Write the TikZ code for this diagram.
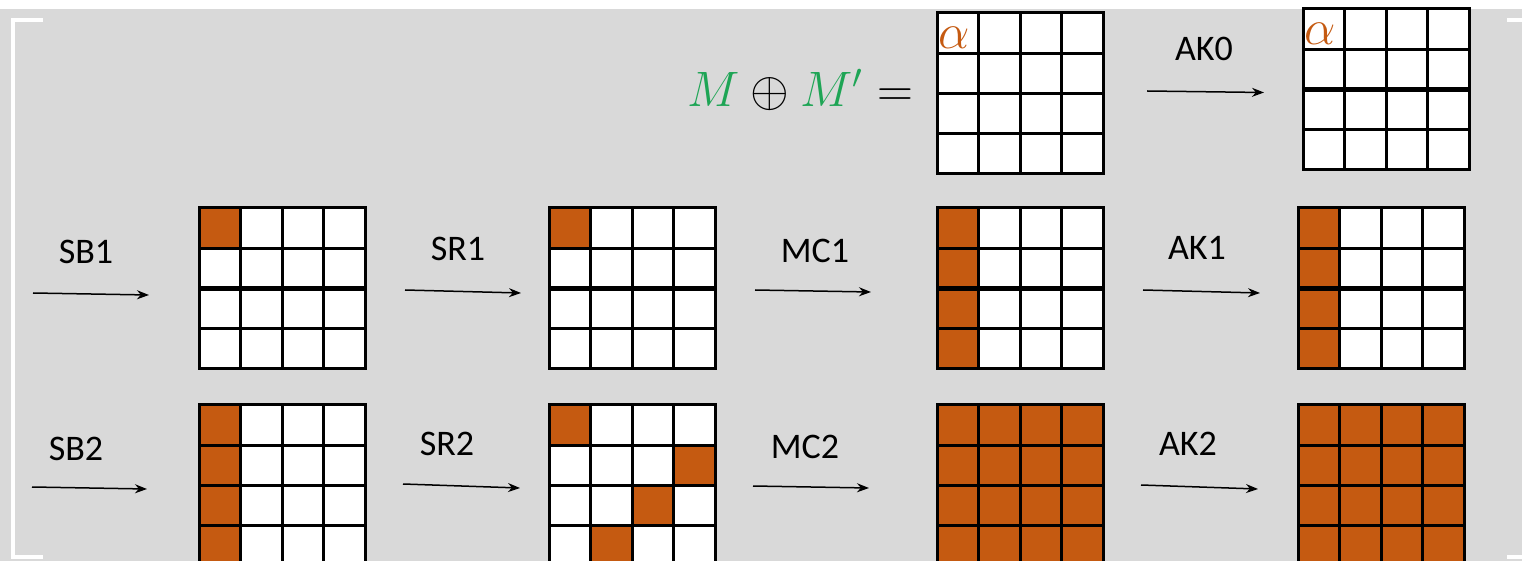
\documentclass[tikz,border=0pt]{standalone}
\usepackage{fontspec}
\newfontfamily\labelfont{Carlito}
\usepackage{tikz}
\usetikzlibrary{
  arrows.meta,
  calc,
  positioning
}

\definecolor{bggray}{HTML}{D9D9D9}
\definecolor{hot}{HTML}{C55A11}
\definecolor{mgreen}{RGB}{30,165,85}

\newcommand{\cellw}{41.5}
\newcommand{\cellh}{40.25}

% one active byte (row, column) of a state
\newcommand{\hotcell}[3]{%
  \fill[hot] ($(#1.north west)+(#3*\cellw,#2*\cellh)$) rectangle +(\cellw,\cellh);}

% lines of a 4x4 state, drawn over the fills
\newcommand{\gridlines}[1]{%
  \foreach \i in {1,2,3} {
    \draw[cellline] ($(#1.north west)!\i/4!(#1.north east)$) -- ($(#1.south west)!\i/4!(#1.south east)$);
    \draw[cellline] ($(#1.north west)!\i/4!(#1.south west)$) -- ($(#1.north east)!\i/4!(#1.south east)$);
  }
  \draw[cellline] (#1.north west) rectangle (#1.south east);}

\newcommand{\midline}[1]{\draw[cellline, line width=2.3pt] (#1.west) -- (#1.east);}

\tikzset{
  statebox/.style={anchor=north west, fill=white, inner sep=0pt, outer sep=0pt,
    minimum width=83pt, minimum height=80.5pt},
  cellline/.style={line width=1.5pt, black},
  op/.style={line width=0.75pt, -{Stealth[length=6pt,width=4.5pt]}},
  oplabel/.style={font=\labelfont\fontsize{18}{20}\selectfont, inner sep=0pt},
  alphalabel/.style={font=\fontsize{23}{26}\selectfont, text=hot, inner sep=0pt},
  bracket/.style={white, line width=2pt}
}

\begin{document}
\begin{tikzpicture}[x=0.5pt, y=-0.5pt]
    \clip (0,0) rectangle (1522,561);

    % background
    \fill[white] (0,0) rectangle (1522,9);
    \fill[bggray] (0,9) rectangle (1522,561);
    \draw[bracket] (43,20) -- (13,20) -- (13,556.5) -- (43,556.5);
    \draw[bracket] (1507,20) -- (1530,20);
    \draw[bracket] (1507,556.5) -- (1530,556.5);

    % states
    \node[statebox] (g01) at (937,13) {};
    \node[statebox] (g02) at (1303,9) {};
    \node[statebox] (g11) at (199,208) {};
    \node[statebox] (g12) at (549,208) {};
    \node[statebox] (g13) at (937,208) {};
    \node[statebox] (g14) at (1298,208) {};
    \node[statebox] (g21) at (199,405) {};
    \node[statebox] (g22) at (549,405) {};
    \node[statebox] (g23) at (937,405) {};
    \node[statebox] (g24) at (1298,405) {};

    % active bytes
    \hotcell{g11}{0}{0}
    \hotcell{g12}{0}{0}
    \foreach \r in {0,...,3} {
      \hotcell{g13}{\r}{0}
      \hotcell{g14}{\r}{0}
      \hotcell{g21}{\r}{0}
    }
    \hotcell{g22}{0}{0}
    \hotcell{g22}{1}{3}
    \hotcell{g22}{2}{2}
    \hotcell{g22}{3}{1}
    \foreach \r in {0,...,3} {
      \foreach \c in {0,...,3} {
        \hotcell{g23}{\r}{\c}
        \hotcell{g24}{\r}{\c}
      }
    }

    \foreach \g in {g01,g02,g11,g12,g13,g14,g21,g22,g23,g24} {\gridlines{\g}}
    \foreach \g in {g02,g11,g12,g13,g14} {\midline{\g}}

    % difference alpha
    \node[alphalabel] (a01) at ($(g01.north west)+(17,25)$) {$\alpha$};
    \node[alphalabel] (a02) at ($(g02.north west)+(17,25)$) {$\alpha$};
    \node[anchor=base, font=\fontsize{23.5}{28}\selectfont] (eq) at (800,107)
      {$\textcolor{mgreen}{M}\oplus\textcolor{mgreen}{M'}=$};

    % round operations
    \coordinate (in1) at (33,293);
    \coordinate (in2) at (32,487);
    \draw[op] ($(g01.east)+(44,-2.5)$) -- ($(g02.west)+(-39,3)$);
    \draw[op] (in1) -- ($(g11.west)+(-50,6.5)$);
    \draw[op] ($(g11.east)+(40,1.5)$) -- ($(g12.west)+(-28,4.5)$);
    \draw[op] ($(g12.east)+(40,1.5)$) -- ($(g13.west)+(-66,3.5)$);
    \draw[op] ($(g13.east)+(40,1.5)$) -- ($(g14.west)+(-38,4.5)$);
    \draw[op] (in2) -- ($(g21.west)+(-52,3.5)$);
    \draw[op] ($(g21.east)+(38,-1.5)$) -- ($(g22.west)+(-29,2.5)$);
    \draw[op] ($(g22.east)+(38,0.5)$) -- ($(g23.west)+(-68,2.5)$);
    \draw[op] ($(g23.east)+(38,-0.5)$) -- ($(g24.west)+(-40,3.5)$);

    \node[oplabel] (ak0) at (1204,49) {AK0};
    \node[oplabel] (sb1) at (86,252) {SB1};
    \node[oplabel] (sr1) at (458,249) {SR1};
    \node[oplabel] (mc1) at (815,251) {MC1};
    \node[oplabel] (ak1) at (1197,248) {AK1};
    \node[oplabel] (sb2) at (76,449) {SB2};
    \node[oplabel] (sr2) at (447,444) {SR2};
    \node[oplabel] (mc2) at (805,447) {MC2};
    \node[oplabel] (ak2) at (1188,444) {AK2};
\end{tikzpicture}
\end{document}
